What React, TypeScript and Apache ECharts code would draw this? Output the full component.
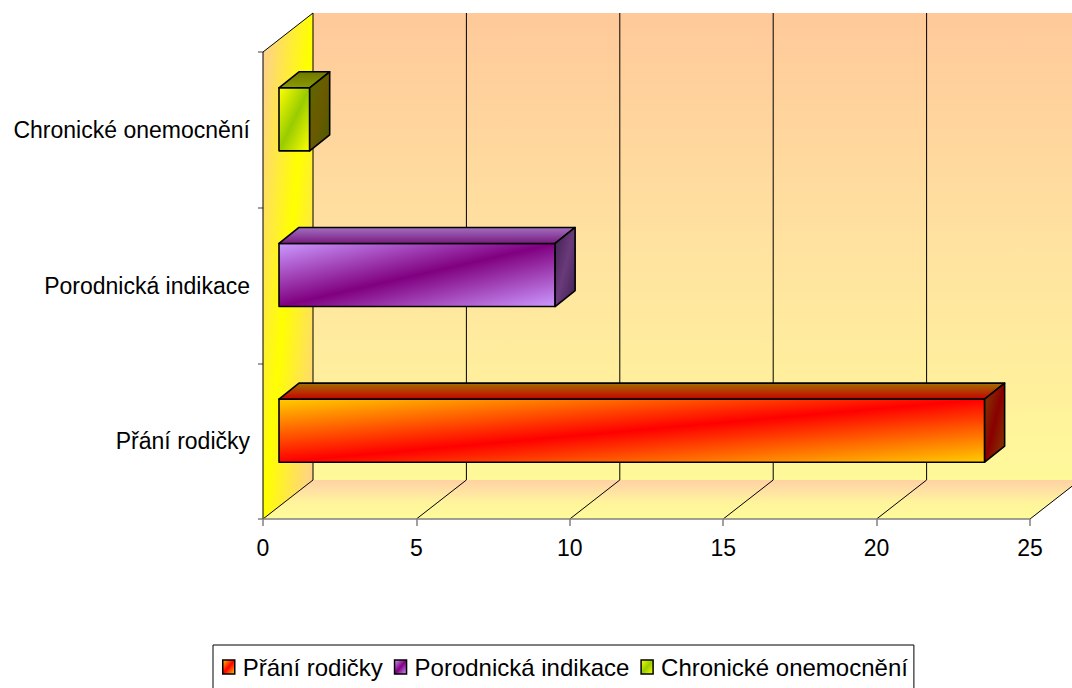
import React, { useEffect, useRef } from 'react';
import * as echarts from 'echarts';

const categories = ['Přání rodičky', 'Porodnická indikace', 'Chronické onemocnění'];
const values = [23, 9, 1];
const xMin = 0;
const xMax = 25;
const xStep = 5;

// 3D geometry (pixels)
const DEPTH = [50, -39];
const BAR_FRONT = [16, -10.5];
const BAR_DEPTH = [20, -16];
const BAR_HEIGHT_RATIO = 0.405;

const FONT = '"Liberation Sans", Arial, sans-serif';

const lg = (x: number, y: number, x2: number, y2: number, stops: [number, string][]) =>
  new echarts.graphic.LinearGradient(x, y, x2, y2, stops.map(([offset, color]) => ({ offset, color })));

const palettes = [
  {
    front: lg(0, 0, 1, 1, [[0, '#FFCC00'], [0.5, '#FF0000'], [1, '#FFCC00']]),
    top: lg(0, 0, 0, 1, [[0, '#A07000'], [1, '#C80000']]),
    side: lg(0, 0, 1, 1, [[0, '#804000'], [0.5, '#8A0000'], [1, '#804000']]),
    legend: lg(0, 0, 1, 1, [[0, '#FFCC00'], [0.5, '#FF0000'], [1, '#FFCC00']]),
  },
  {
    front: lg(0, 0, 1, 1, [[0, '#CC99FF'], [0.5, '#800080'], [1, '#CC99FF']]),
    top: lg(0, 0, 0, 1, [[0, '#A070C0'], [1, '#7A1A80']]),
    side: lg(0, 0, 1, 1, [[0, '#3E2050'], [0.5, '#6A3A7A'], [1, '#3E2050']]),
    legend: lg(0, 0, 1, 1, [[0, '#CC99FF'], [0.5, '#800080'], [1, '#CC99FF']]),
  },
  {
    front: lg(0, 0, 1, 1, [[0, '#FFFF00'], [0.5, '#99CC00'], [1, '#FFFF00']]),
    top: lg(0, 0, 0, 1, [[0, '#6E7800'], [1, '#8A9A00']]),
    side: lg(0, 0, 1, 1, [[0, '#5A6A00'], [0.5, '#6A5A00'], [1, '#4E5A00']]),
    legend: lg(0, 0, 1, 1, [[0, '#FFFF00'], [0.5, '#99CC00'], [1, '#FFFF00']]),
  },
];

function App() {
  const ref = useRef<HTMLDivElement>(null);

  useEffect(() => {
    if (!ref.current) return;
    const chart = echarts.init(ref.current, null, { renderer: 'svg' });

    const ticks: number[] = [];
    for (let v = xMin; v <= xMax; v += xStep) ticks.push(v);

    const renderWalls = (params: any, api: any) => {
      if (params.dataIndex !== 0) return null;
      const cs = params.coordSys;
      const left = cs.x;
      const top = cs.y;
      const bottom = cs.y + cs.height;
      const [dx, dy] = DEPTH;
      const x0 = api.coord([xMin, 0])[0];
      const x1 = api.coord([xMax, 0])[0];
      const children: any[] = [];
      children.push({
        type: 'polygon',
        shape: { points: [[x0 + dx, top + dy], [x1 + dx, top + dy], [x1 + dx, bottom + dy], [x0 + dx, bottom + dy]] },
        style: { fill: lg(0, 0, 0, 1, [[0, '#FFC99A'], [0.5, '#FFE2A0'], [1, '#FFF99A']]) },
        silent: true,
      });
      children.push({
        type: 'polygon',
        shape: { points: [[x0, bottom], [x1, bottom], [x1 + dx, bottom + dy], [x0 + dx, bottom + dy]] },
        style: { fill: lg(0, 1, 0, 0, [[0, '#FFFB99'], [0.45, '#FFF39C'], [0.75, '#FFDFA4'], [1, '#FFD2A2']]) },
        silent: true,
      });
      children.push({
        type: 'polygon',
        shape: { points: [[left, bottom], [left, top], [left + dx, top + dy], [left + dx, bottom + dy]] },
        style: { fill: lg(0, 0, 1, 1, [[0, '#FFCC99'], [0.5, '#FFFF00'], [1, '#FFCC99']]) },
        silent: true,
      });
      ticks.forEach((t, i) => {
        const x = api.coord([t, 0])[0];
        if (i > 0) {
          children.push({
            type: 'line',
            shape: { x1: x + dx, y1: top + dy, x2: x + dx, y2: bottom + dy },
            style: { stroke: '#000', lineWidth: 1 },
            silent: true,
          });
        }
        children.push({
          type: 'line',
          shape: { x1: x, y1: bottom, x2: x + dx, y2: bottom + dy },
          style: { stroke: '#000', lineWidth: 1 },
          silent: true,
        });
      });
      children.push({
        type: 'polyline',
        shape: { points: [[left, top], [left + dx, top + dy], [left + dx, bottom + dy]] },
        style: { stroke: '#000', lineWidth: 1, fill: 'none' },
        silent: true,
      });
      children.push({
        type: 'line',
        shape: { x1: left, y1: top, x2: left, y2: bottom },
        style: { stroke: '#000', lineWidth: 1 },
        silent: true,
      });
      return { type: 'group', children };
    };

    const makeBarRender = (pal: any) => (params: any, api: any) => {
      const v = api.value(0);
      const c = api.value(1);
      const p0 = api.coord([xMin, c]);
      const p1 = api.coord([v, c]);
      const band = api.size([0, 1])[1];
      const h = band * BAR_HEIGHT_RATIO;
      const xa = p0[0] + BAR_FRONT[0];
      const xb = p1[0] + BAR_FRONT[0];
      const yt = p0[1] + BAR_FRONT[1] - h / 2;
      const yb = yt + h;
      const [ddx, ddy] = BAR_DEPTH;
      const stroke = { stroke: '#000', lineWidth: 1.6, lineJoin: 'round' };
      return {
        type: 'group',
        children: [
          {
            type: 'polygon',
            shape: { points: [[xa, yt], [xb, yt], [xb, yb], [xa, yb]] },
            style: { fill: pal.front, ...stroke },
          },
          {
            type: 'polygon',
            shape: { points: [[xa, yt], [xa + ddx, yt + ddy], [xb + ddx, yt + ddy], [xb, yt]] },
            style: { fill: pal.top, ...stroke },
          },
          {
            type: 'polygon',
            shape: { points: [[xb, yt], [xb + ddx, yt + ddy], [xb + ddx, yb + ddy], [xb, yb]] },
            style: { fill: pal.side, ...stroke },
          },
        ],
      };
    };

    const barSeries = categories.map((name, i) => ({
      type: 'custom',
      name,
      z: 5,
      renderItem: makeBarRender(palettes[i]),
      encode: { x: 0, y: 1 },
      itemStyle: { color: palettes[i].legend },
      data: [[values[i], i]],
    }));

    chart.setOption({
      animation: false,
      textStyle: { fontFamily: FONT },
      grid: { left: 263, top: 52, right: 42, bottom: 169, containLabel: false },
      xAxis: {
        type: 'value',
        min: xMin,
        max: xMax,
        interval: xStep,
        axisLine: { show: true, lineStyle: { color: '#808080', width: 1.5 } },
        axisTick: { show: true, length: 7, lineStyle: { color: '#808080', width: 1.5 } },
        axisLabel: { fontSize: 23, color: '#000', margin: 17, fontFamily: FONT },
        splitLine: { show: false },
        z: 10,
      },
      yAxis: {
        type: 'category',
        data: categories,
        axisLine: { show: false },
        axisTick: { show: true, length: 5, lineStyle: { color: '#808080', width: 1.5 } },
        axisLabel: { fontSize: 23, color: '#000', margin: 13, fontFamily: FONT },
        splitLine: { show: false },
      },
      legend: {
        left: 213,
        top: 645,
        padding: [10, 6, 10, 9],
        itemGap: 11,
        itemWidth: 12,
        itemHeight: 14,
        backgroundColor: '#fff',
        borderColor: '#000',
        borderWidth: 1,
        borderRadius: 0,
        textStyle: { fontSize: 24, color: '#000', fontFamily: FONT, padding: [0, 0, 0, 3] },
        data: categories.map((name, i) => ({
          name,
          icon: 'rect',
          itemStyle: { color: palettes[i].legend, borderColor: '#000', borderWidth: 1.5 },
        })),
      },
      series: [
        {
          type: 'custom',
          name: 'walls',
          z: 1,
          silent: true,
          renderItem: renderWalls,
          encode: { x: 0, y: 1 },
          data: [[0, 0]],
        },
        ...barSeries,
      ],
    });

    return () => chart.dispose();
  }, []);

  return (
    <div
      ref={ref}
      style={{ position: 'absolute', left: 0, top: 0, width: 1072, height: 688, background: '#fff' }}
    />
  );
}

export default App;
